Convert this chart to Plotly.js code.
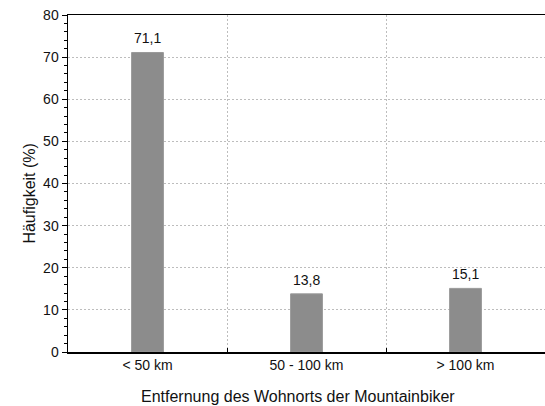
<!DOCTYPE html>
<html><head><meta charset="utf-8">
<script src="https://cdn.plot.ly/plotly-3.0.1.min.js"></script>
<style>html,body{margin:0;padding:0;background:#fff}</style>
</head><body>
<div id="chart" style="width:545px;height:406px"></div>
<script>
const categories = ["< 50 km", "50 - 100 km", "> 100 km"];
const values = [71.1, 13.8, 15.1];
const valueLabels = ["71,1", "13,8", "15,1"];
const yTicks = [0, 10, 20, 30, 40, 50, 60, 70, 80];
const xTitle = 'Entfernung des Wohnorts der Mountainbiker';
const yTitle = 'Häufigkeit (%)';

const FONT = 'Liberation Sans, Arial, sans-serif';

const trace = {
  type: 'bar',
  x: categories,
  y: values,
  width: 0.2,
  marker: {color: '#8c8c8c', line: {color: '#999999', width: 1}},
  hoverinfo: 'none'
};

const annotations = categories.map((c, i) => ({
  x: c, y: values[i], xref: 'x', yref: 'y',
  text: valueLabels[i], showarrow: false,
  yanchor: 'bottom', yshift: 4,
  font: {family: FONT, size: 14, color: '#111'}
}));
annotations.push({
  x: 0.482, y: 0, xref: 'paper', yref: 'paper',
  yanchor: 'middle', yshift: -44, showarrow: false,
  text: xTitle, font: {family: FONT, size: 16, color: '#111'}
});
annotations.push({
  x: 0, y: 0.47, xref: 'paper', yref: 'paper',
  xanchor: 'center', xshift: -38, showarrow: false, textangle: -90,
  text: yTitle, font: {family: FONT, size: 16, color: '#111'}
});

const layout = {
  width: 545, height: 406,
  margin: {l: 68, r: 0, t: 15, b: 54},
  paper_bgcolor: '#fff', plot_bgcolor: '#fff',
  showlegend: false,
  font: {family: FONT, size: 14, color: '#111'},
  annotations: annotations,
  xaxis: {
    type: 'category',
    tickson: 'boundaries',
    ticks: 'inside', ticklen: 4, tickcolor: '#000', tickwidth: 1,
    showline: true, linecolor: '#000', linewidth: 1.5, mirror: true,
    showgrid: true, gridcolor: '#bdbdbd', griddash: '2px,2px', gridwidth: 1,
    tickfont: {size: 14}
  },
  yaxis: {
    range: [0, 80],
    tickvals: yTicks,
    ticks: 'outside', ticklen: 5, tickcolor: '#000', tickwidth: 1,
    minor: {dtick: 2, ticks: 'outside', ticklen: 3, tickcolor: '#000', showgrid: false},
    showline: true, linecolor: '#000', linewidth: 1.5, mirror: true,
    showgrid: true, gridcolor: '#bdbdbd', griddash: '2px,2px', gridwidth: 1,
    zeroline: false,
    tickfont: {size: 14}
  }
};

Plotly.newPlot('chart', [trace], layout, {displayModeBar: false, staticPlot: true});
</script>
</body></html>
